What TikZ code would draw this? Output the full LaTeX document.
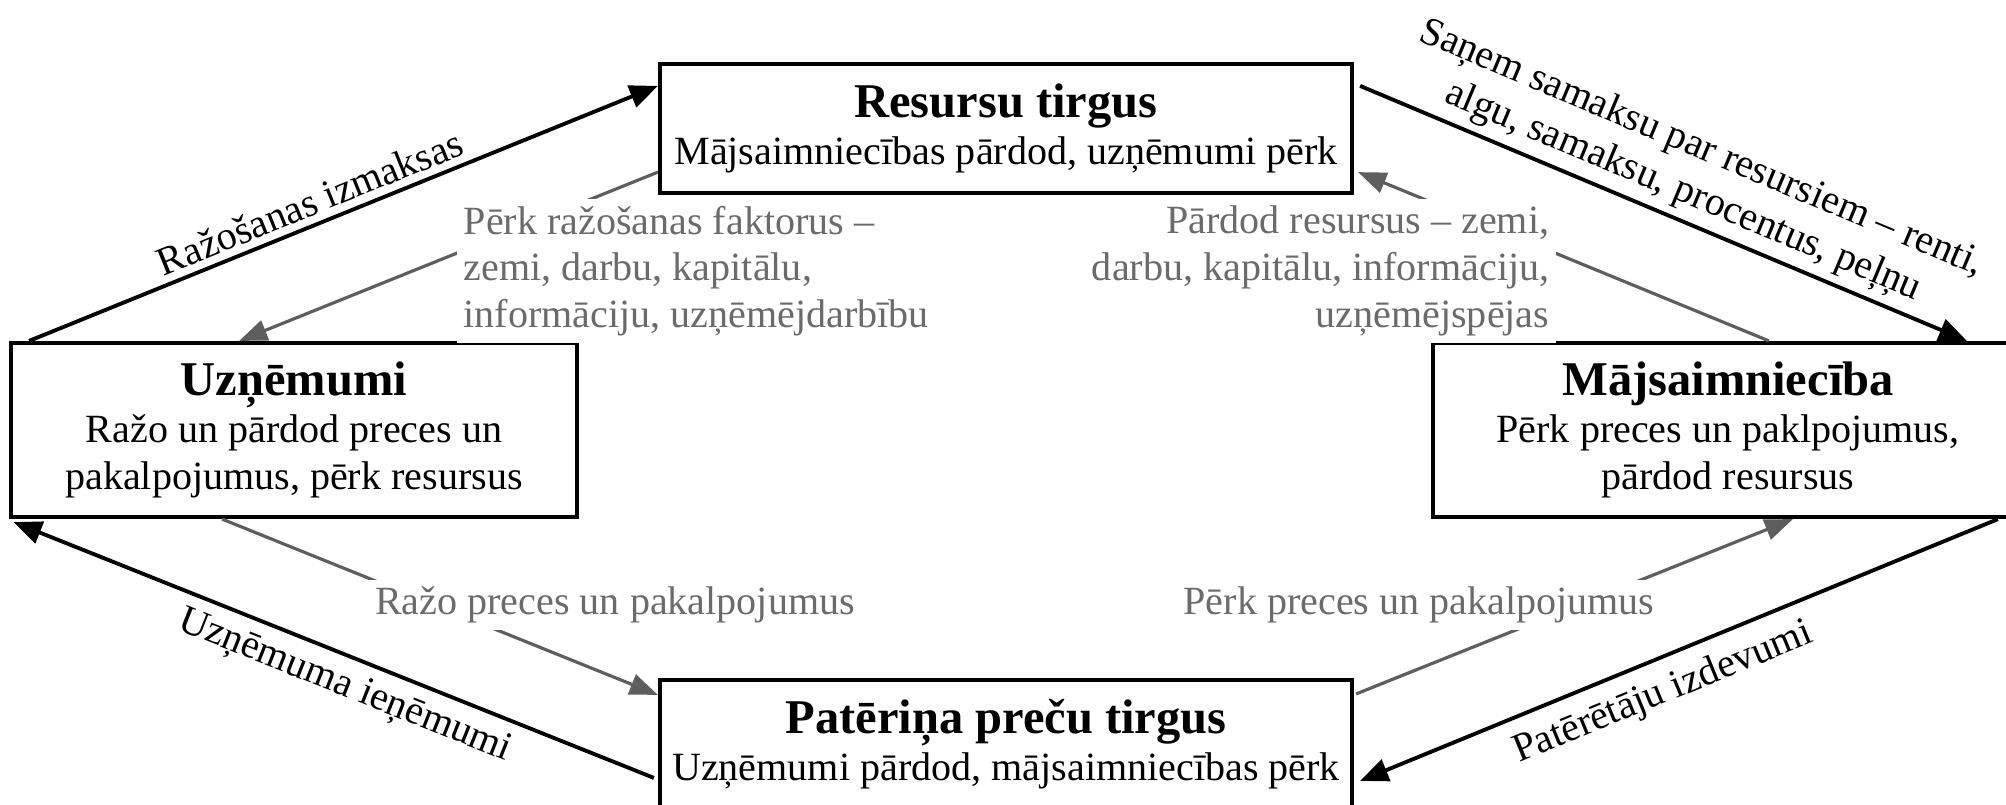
\documentclass[tikz,border=0pt]{standalone}
\usepackage{fontspec}
\setmainfont{Liberation Serif}
\usetikzlibrary{positioning, calc, arrows.meta}
\definecolor{xgray}{HTML}{5E5E5E}
\definecolor{xtext}{HTML}{6B6B6B}
\tikzset{
	box/.style={draw, line width=1.2pt, align=center, inner sep=0pt},
	arrow/.style={line width=1.1pt, ->, >={Triangle[length=8pt, width=6.5pt]}},
	flow/.style={line width=0.9pt, xgray, ->, >={Triangle[length=8pt, width=6pt]}},
	note/.style={text=xtext, fill=white, inner sep=2pt},
	lbl/.style={sloped, inner sep=2pt},
}
\newcommand{\boxtitle}[1]{{\fontsize{13.8}{16}\selectfont\bfseries #1}}

\begin{document}
\begin{tikzpicture}[font=\fontsize{11.4}{13.3}\selectfont]
	\useasboundingbox (0,0) rectangle (20.06,8.04);

	% markets and agents
	\node[box, minimum width=6.92cm, minimum height=1.29cm] (res) at (10.06,6.755) {\boxtitle{Resursu tirgus}\\ Mājsaimniecības pārdod, uzņēmumi pērk};
	\node[box, minimum width=6.92cm, minimum height=1.29cm] (cons) at (10.06,0.595) {\boxtitle{Patēriņa preču tirgus}\\ Uzņēmumi pārdod, mājsaimniecības pērk};
	\node[box, minimum width=5.655cm, minimum height=1.74cm] (firm) at (2.94,3.74) {\boxtitle{Uzņēmumi}\\ Ražo un pārdod preces un\\ pakalpojumus, pērk resursus};
	\node[box, minimum width=5.9cm, minimum height=1.74cm] (hh) at (17.28,3.74) {\boxtitle{Mājsaimniecība}\\ Pērk preces un paklpojumus,\\ pārdod resursus};

	% money flows
	\draw[arrow] ([xshift=0.2cm]firm.north west) -- ([yshift=-0.24cm]res.north west) node[lbl, pos=0.46, above] {Ražošanas izmaksas};
	\draw[arrow] ([xshift=0.06cm, yshift=-0.24cm]res.north east) -- ([xshift=5.36cm]hh.north west) node[lbl, pos=0.515, above, align=center] {Saņem samaksu par resursiem – renti,\\ algu, samaksu, procentus, peļņu};
	\draw[arrow] ([xshift=5.67cm]hh.south west) -- ([xshift=0.06cm, yshift=-1.03cm]cons.north east) node[lbl, pos=0.545, below, inner sep=4pt] {Patērētāju izdevumi};
	\draw[arrow] ([xshift=-0.04cm, yshift=-1.0cm]cons.north west) -- ([xshift=0.045cm, yshift=-0.03cm]firm.south west) node[lbl, pos=0.466, below, inner sep=3pt] {Uzņēmuma ieņēmumi};

	% real flows
	\draw[flow] ([yshift=0.23cm]res.south west) -- ([xshift=2.3cm]firm.north west);
	\draw[flow] ([xshift=3.38cm]hh.north west) -- ([xshift=0.04cm, yshift=0.23cm]res.south east);
	\draw[flow] ([xshift=2.13cm]firm.south west) -- ([yshift=-0.17cm]cons.north west);
	\draw[flow] ([xshift=0.02cm, yshift=-0.16cm]cons.north east) -- ([xshift=3.62cm]hh.south west);

	\node[note, anchor=west, align=left] (buyf) at (4.56,5.33) {Pērk ražošanas faktorus –\\ zemi, darbu, kapitālu,\\ informāciju, uzņēmējdarbību};
	\node[note, anchor=east, align=right] (sellr) at (15.57,5.33) {Pārdod resursus – zemi,\\ darbu, kapitālu, informāciju,\\ uzņēmējspējas};
	\node[note] (prodg) at (6.15,1.99) {Ražo preces un pakalpojumus};
	\node[note] (buyg) at (14.19,1.99) {Pērk preces un pakalpojumus};
\end{tikzpicture}
\end{document}
